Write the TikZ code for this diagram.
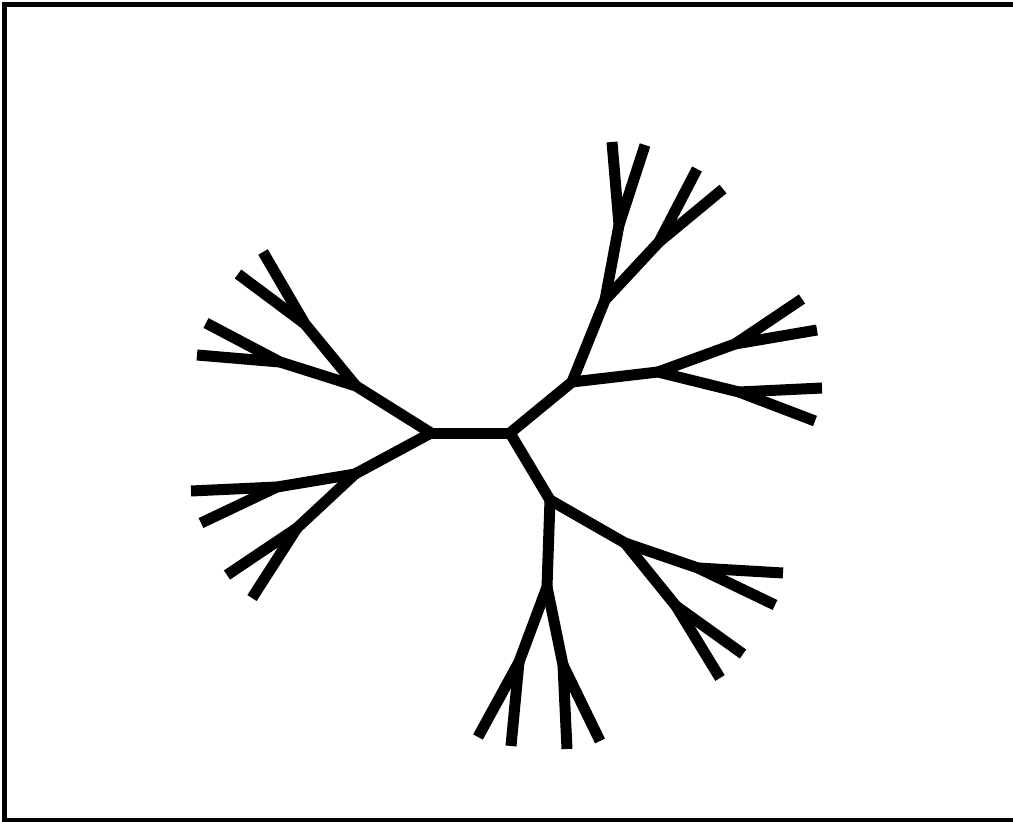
\documentclass[tikz,border=0pt]{standalone}
\begin{document}
\begin{tikzpicture}[x=1pt,y=-1pt,
  branch/.style={line width=11pt,line cap=butt,draw=black},
  frame/.style={line width=5.6pt,draw=black}]
\useasboundingbox (0,0) rectangle (1013,822);
\begin{scope}
\clip (0,0) rectangle (1013,822);
\draw[frame] (4.5,4.5) rectangle (1030,820.5);
\end{scope}
% internal nodes
\coordinate (A) at (431,433);
\coordinate (B) at (510,433);
\coordinate (C1) at (356,386);
\coordinate (C2) at (355,474);
\coordinate (D1) at (305,324);
\coordinate (D2) at (280,362);
\coordinate (D3) at (277,487);
\coordinate (D4) at (297,528);
\coordinate (C3) at (572,382);
\coordinate (C4) at (550,500);
\coordinate (E1) at (605,300);
\coordinate (E2) at (658,372);
\coordinate (E3) at (547,587);
\coordinate (E4) at (625,543);
\coordinate (F1) at (619,225);
\coordinate (F2) at (659,242);
\coordinate (F3) at (735,344);
\coordinate (F4) at (739,392);
\coordinate (F5) at (519,662);
\coordinate (F6) at (563,665);
\coordinate (F7) at (698,568);
\coordinate (F8) at (676,606);
% leaves
\coordinate (l1) at (263,252);
\coordinate (l2) at (238,274);
\coordinate (l3) at (206,323);
\coordinate (l4) at (197,355);
\coordinate (l5) at (191,491);
\coordinate (l6) at (201,523);
\coordinate (l7) at (227,575);
\coordinate (l8) at (252,598);
\coordinate (l9) at (612,142);
\coordinate (l10) at (645,145);
\coordinate (l11) at (697,169);
\coordinate (l12) at (723,189);
\coordinate (l13) at (802,299);
\coordinate (l14) at (817,330);
\coordinate (l15) at (822,388);
\coordinate (l16) at (815,421);
\coordinate (l17) at (783,573);
\coordinate (l18) at (775,605);
\coordinate (l19) at (743,654);
\coordinate (l20) at (720,678);
\coordinate (l21) at (600,741);
\coordinate (l22) at (567,749);
\coordinate (l23) at (511,746);
\coordinate (l24) at (478,737);
% edges
\draw[branch] (A) -- (B);
\draw[branch] (A) -- (C1);
\draw[branch] (A) -- (C2);
\draw[branch] (C1) -- (D1);
\draw[branch] (C1) -- (D2);
\draw[branch] (C2) -- (D3);
\draw[branch] (C2) -- (D4);
\draw[branch] (D1) -- (l1);
\draw[branch] (D1) -- (l2);
\draw[branch] (D2) -- (l3);
\draw[branch] (D2) -- (l4);
\draw[branch] (D3) -- (l5);
\draw[branch] (D3) -- (l6);
\draw[branch] (D4) -- (l7);
\draw[branch] (D4) -- (l8);
\draw[branch] (B) -- (C3);
\draw[branch] (B) -- (C4);
\draw[branch] (C3) -- (E1);
\draw[branch] (C3) -- (E2);
\draw[branch] (C4) -- (E3);
\draw[branch] (C4) -- (E4);
\draw[branch] (E1) -- (F1);
\draw[branch] (E1) -- (F2);
\draw[branch] (E2) -- (F3);
\draw[branch] (E2) -- (F4);
\draw[branch] (E3) -- (F5);
\draw[branch] (E3) -- (F6);
\draw[branch] (E4) -- (F7);
\draw[branch] (E4) -- (F8);
\draw[branch] (F1) -- (l9);
\draw[branch] (F1) -- (l10);
\draw[branch] (F2) -- (l11);
\draw[branch] (F2) -- (l12);
\draw[branch] (F3) -- (l13);
\draw[branch] (F3) -- (l14);
\draw[branch] (F4) -- (l15);
\draw[branch] (F4) -- (l16);
\draw[branch] (F7) -- (l17);
\draw[branch] (F7) -- (l18);
\draw[branch] (F8) -- (l19);
\draw[branch] (F8) -- (l20);
\draw[branch] (F6) -- (l21);
\draw[branch] (F6) -- (l22);
\draw[branch] (F5) -- (l23);
\draw[branch] (F5) -- (l24);
\end{tikzpicture}
\end{document}
